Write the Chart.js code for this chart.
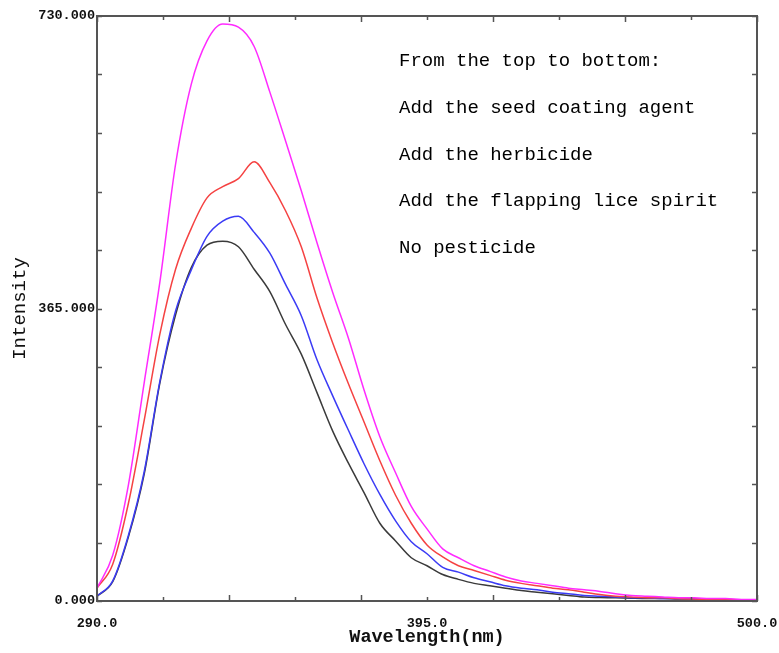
<!DOCTYPE html>
<html>
<head>
<meta charset="utf-8">
<script src="https://cdn.jsdelivr.net/npm/chart.js@4/dist/chart.umd.min.js"></script>
<style>
  html, body { margin: 0; padding: 0; background: #fff; }
  canvas { display: block; }
</style>
</head>
<body>
<canvas id="chart" width="779" height="653"></canvas>
<script>
/* ======================
   DATA
====================== */
const wavelengths = [290, 295, 300, 305, 310, 315, 320, 325, 330, 335, 340, 345, 350, 355, 360,
  365, 370, 375, 380, 385, 390, 395, 400, 405, 410, 415, 420, 425, 430, 435, 440,
  445, 450, 455, 460, 465, 470, 475, 480, 485, 490, 495, 500]

const seedCoating = [16, 57, 145, 272, 398, 545, 645, 699, 720, 716, 692, 635, 574, 512, 447,
  385, 328, 263, 205, 160, 118, 90, 65, 54, 44, 37, 30, 25, 22, 19, 16,
  14, 12, 9, 7, 6, 5, 4, 4, 3, 3, 2, 2]

const herbicide = [16, 46, 122, 225, 333, 414, 465, 503, 517, 527, 548, 522, 487, 442, 378,
  322, 271, 223, 175, 132, 97, 70, 55, 44, 38, 32, 26, 22, 19, 16, 14,
  11, 8, 6, 5, 4, 4, 3, 2.5, 2, 2, 1.5, 1]

const lice = [6, 25, 82, 161, 274, 362, 413, 455, 474, 480, 460, 434, 395, 356, 301,
  256, 213, 171, 133, 100, 74, 59, 42, 36, 29, 24, 19, 16, 14, 11, 9,
  7, 6, 5, 4, 4, 3, 3, 2.5, 2, 2, 1.5, 1]

const noPesticide = [6, 24, 80, 158, 272, 357, 416, 444, 449, 442, 414, 386, 345, 308, 260,
  212, 172, 135, 97, 75, 54, 44, 33, 27, 22, 19, 16, 13, 11, 9, 7,
  5, 4.4, 4, 3.4, 3, 3, 2.5, 2.5, 2, 1.5, 1, 1]

const seriesNames = ["Add the seed coating agent", "Add the herbicide",
  "Add the flapping lice spirit", "No pesticide"]
const seriesColors = ["#ff2bff", "#f54242", "#3b3bf5", "#3a3a3a"]

const notes = ["From the top to bottom:", "Add the seed coating agent",
  "Add the herbicide", "Add the flapping lice spirit", "No pesticide"]

const xLabels = [290, 395, 500]
const yLabels = [0, 365, 730]

/* ======================
   PLUGIN: FRAME, INWARD TICKS, NOTES
====================== */
const frame = {
  id: "frame",
  afterDatasetsDraw(chart) {
    const { ctx, chartArea: a, scales: { x, y } } = chart
    ctx.save()
    ctx.strokeStyle = "#555"
    ctx.lineWidth = 1.5
    ctx.beginPath()
    x.ticks.forEach((t, i) => {
      const px = Math.round(x.getPixelForValue(t.value)) + 0.5
      const len = i % 2 ? 4 : 6
      ctx.moveTo(px, a.bottom); ctx.lineTo(px, a.bottom - len)
      ctx.moveTo(px, a.top); ctx.lineTo(px, a.top + len)
    })
    y.ticks.forEach(t => {
      const py = Math.round(y.getPixelForValue(t.value)) + 0.5
      ctx.moveTo(a.left, py); ctx.lineTo(a.left + 5, py)
      ctx.moveTo(a.right, py); ctx.lineTo(a.right - 5, py)
    })
    ctx.stroke()
    ctx.lineWidth = 2
    ctx.strokeRect(a.left, a.top, a.right - a.left, a.bottom - a.top)

    ctx.fillStyle = "#000"
    ctx.font = "19px 'Liberation Mono', monospace"
    ctx.textBaseline = "middle"
    notes.forEach((n, i) => {
      ctx.fillText(n, a.left + 302, a.top + 45 + i * 46.8)
    })
    ctx.restore()
  }
}

/* ======================
   CHART
====================== */
const datasets = [seedCoating, herbicide, lice, noPesticide].map((vals, i) => ({
  label: seriesNames[i],
  data: wavelengths.map((w, j) => ({ x: w, y: vals[j] })),
  borderColor: seriesColors[i],
  borderWidth: 1.5,
  pointRadius: 0,
  cubicInterpolationMode: "monotone",
  fill: false
}))

const tickFont = { family: "'Liberation Mono', monospace", size: 13.5, weight: "bold" }

new Chart(document.getElementById("chart"), {
  type: "line",
  data: { datasets },
  plugins: [frame],
  options: {
    responsive: false,
    animation: false,
    layout: { padding: { top: 16, right: 22, left: 0, bottom: 0 } },
    plugins: { legend: { display: false }, tooltip: { enabled: false } },
    scales: {
      x: {
        type: "linear",
        min: 290,
        max: 500,
        afterFit: s => { s.height = 52; s.paddingLeft = 0; s.paddingRight = 0 },
        grid: { display: false, drawTicks: false },
        border: { display: false },
        ticks: {
          stepSize: 21,
          autoSkip: false,
          maxRotation: 0,
          padding: 14,
          color: "#111",
          font: tickFont,
          callback: v => xLabels.includes(Math.round(v)) ? v.toFixed(1) : ""
        },
        title: {
          display: true,
          text: "Wavelength(nm)",
          color: "#111",
          font: { family: "'Liberation Mono', monospace", size: 18.5, weight: "bold" },
          padding: { top: 0, bottom: 5 }
        }
      },
      y: {
        min: 0,
        max: 730,
        afterFit: s => { s.width = 97; s.paddingTop = 0; s.paddingBottom = 0 },
        grid: { display: false, drawTicks: false },
        border: { display: false },
        ticks: {
          stepSize: 73,
          autoSkip: false,
          padding: 2,
          color: "#111",
          font: tickFont,
          callback: v => yLabels.includes(Math.round(v)) ? v.toFixed(3) : ""
        },
        title: {
          display: true,
          text: "Intensity",
          color: "#111",
          font: { family: "'Liberation Mono', monospace", size: 19 },
          padding: { top: 9, bottom: 0 }
        }
      }
    }
  }
})
</script>
</body>
</html>
